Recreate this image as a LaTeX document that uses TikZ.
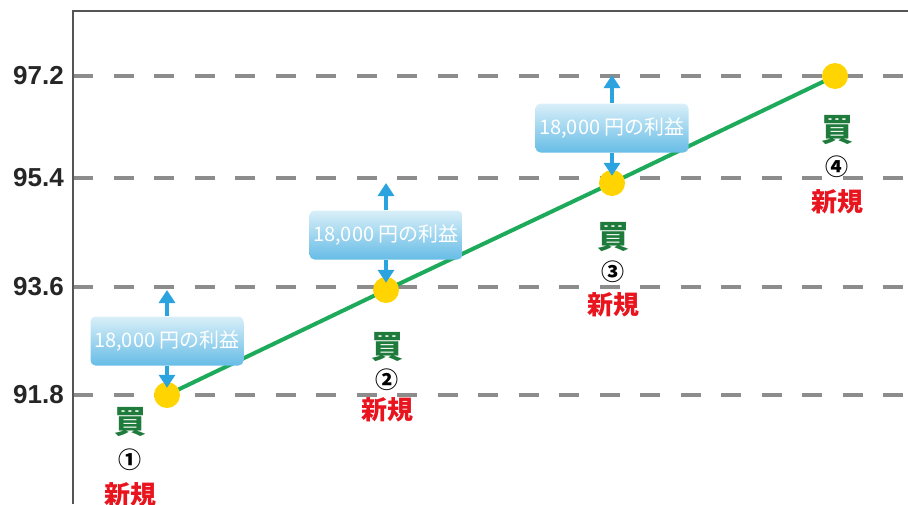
\documentclass[tikz,border=0pt]{standalone}
\usepackage{fontspec}
\setmainfont{Liberation Sans}
\newfontfamily\cjk{Noto Sans CJK JP}
\usetikzlibrary{arrows.meta}
\definecolor{gridgray}{HTML}{8C8C8C}
\definecolor{framegray}{HTML}{555555}
\definecolor{linegreen}{HTML}{1DAA5A}
\definecolor{buygreen}{HTML}{1E7B3C}
\definecolor{newred}{HTML}{E8141E}
\definecolor{dotyellow}{HTML}{FFD400}
\definecolor{arrowblue}{HTML}{2AA3DF}
\definecolor{boxtop}{HTML}{D9EFF8}
\definecolor{boxbot}{HTML}{66BCE6}
\begin{document}
\begin{tikzpicture}[x=1pt,y=-1pt,
 grid/.style={gridgray,line width=4pt,dash pattern=on 20pt off 20.5pt},
 frame/.style={framegray,line width=2pt},
 ylab/.style={anchor=east,inner sep=0pt,font=\fontsize{26}{26}\selectfont\bfseries,text=black!85},
 dot/.style={circle,fill=dotyellow,minimum size=26pt,inner sep=0pt},
 profit/.style={rounded corners=5pt,top color=boxtop,bottom color=boxbot,minimum width=153pt,minimum height=49pt,inner sep=0pt,text=white,font=\cjk\fontsize{20}{20}\selectfont},
 upar/.style={arrowblue,line width=4pt,-{Triangle[width=16pt,length=13pt]}},
 buy/.style={text=buygreen,inner sep=0pt,font=\cjk\bfseries\fontsize{32}{32}\selectfont},
 num/.style={text=black,inner sep=0pt,font=\cjk\bfseries\fontsize{23}{23}\selectfont},
 newl/.style={text=newred,inner sep=0pt,font=\cjk\bfseries\fontsize{26}{26}\selectfont},
 trend/.style={linegreen,line width=4pt}
]
\useasboundingbox (0,0) rectangle (908,504);
% grid
\draw[grid] (73,76) -- (908,76);
\draw[grid] (73,178) -- (908,178);
\draw[grid] (73,287) -- (908,287);
\draw[grid] (73,395) -- (908,395);
% frame
\draw[frame] (73,504) -- (73,11) -- (908,11);
% y labels
\node[ylab] (y1) at (64,76) {97.2};
\node[ylab] (y2) at (64,178) {95.4};
\node[ylab] (y3) at (64,287) {93.6};
\node[ylab] (y4) at (64,395) {91.8};
% trend
\coordinate (c1) at (167,395);
\coordinate (c2) at (386,290);
\coordinate (c3) at (612,183);
\coordinate (c4) at (835,76);
\draw[trend] (c1) -- (c2) -- (c3) -- (c4);
% profit boxes and arrows
\node[profit] (b1) at (167,341) {18,000 円の利益};
\node[profit] (b2) at (386,235) {18,000 円の利益};
\node[profit] (b3) at (612,128) {18,000 円の利益};
\coordinate (u1) at (167,290);
\coordinate (u2) at (386,183);
\coordinate (u3) at (612,75);
\draw[upar] (b1.north) -- (u1);
\draw[upar] (b2.north) -- (u2);
\draw[upar] (b3.north) -- (u3);
\node[dot] (p1) at (c1) {};
\node[dot] (p2) at (c2) {};
\node[dot] (p3) at (c3) {};
\node[dot] (p4) at (c4) {};
\draw[upar] (b1.south) -- ([yshift=-6pt]p1.north);
\draw[upar] (b2.south) -- ([yshift=-6pt]p2.north);
\draw[upar] (b3.south) -- ([yshift=-6pt]p3.north);
% labels
\node[buy] (k1) at (130,422) {買};
\node[num] (n1) at (130,460) {①};
\node[newl] (s1) at (130,495) {新規};
\node[buy] (k2) at (387,347) {買};
\node[num] (n2) at (387,380) {②};
\node[newl] (s2) at (387,410) {新規};
\node[buy] (k3) at (613,237) {買};
\node[num] (n3) at (613,272) {③};
\node[newl] (s3) at (613,305) {新規};
\node[buy] (k4) at (837,130) {買};
\node[num] (n4) at (837,167) {④};
\node[newl] (s4) at (837,202) {新規};
\end{tikzpicture}
\end{document}
